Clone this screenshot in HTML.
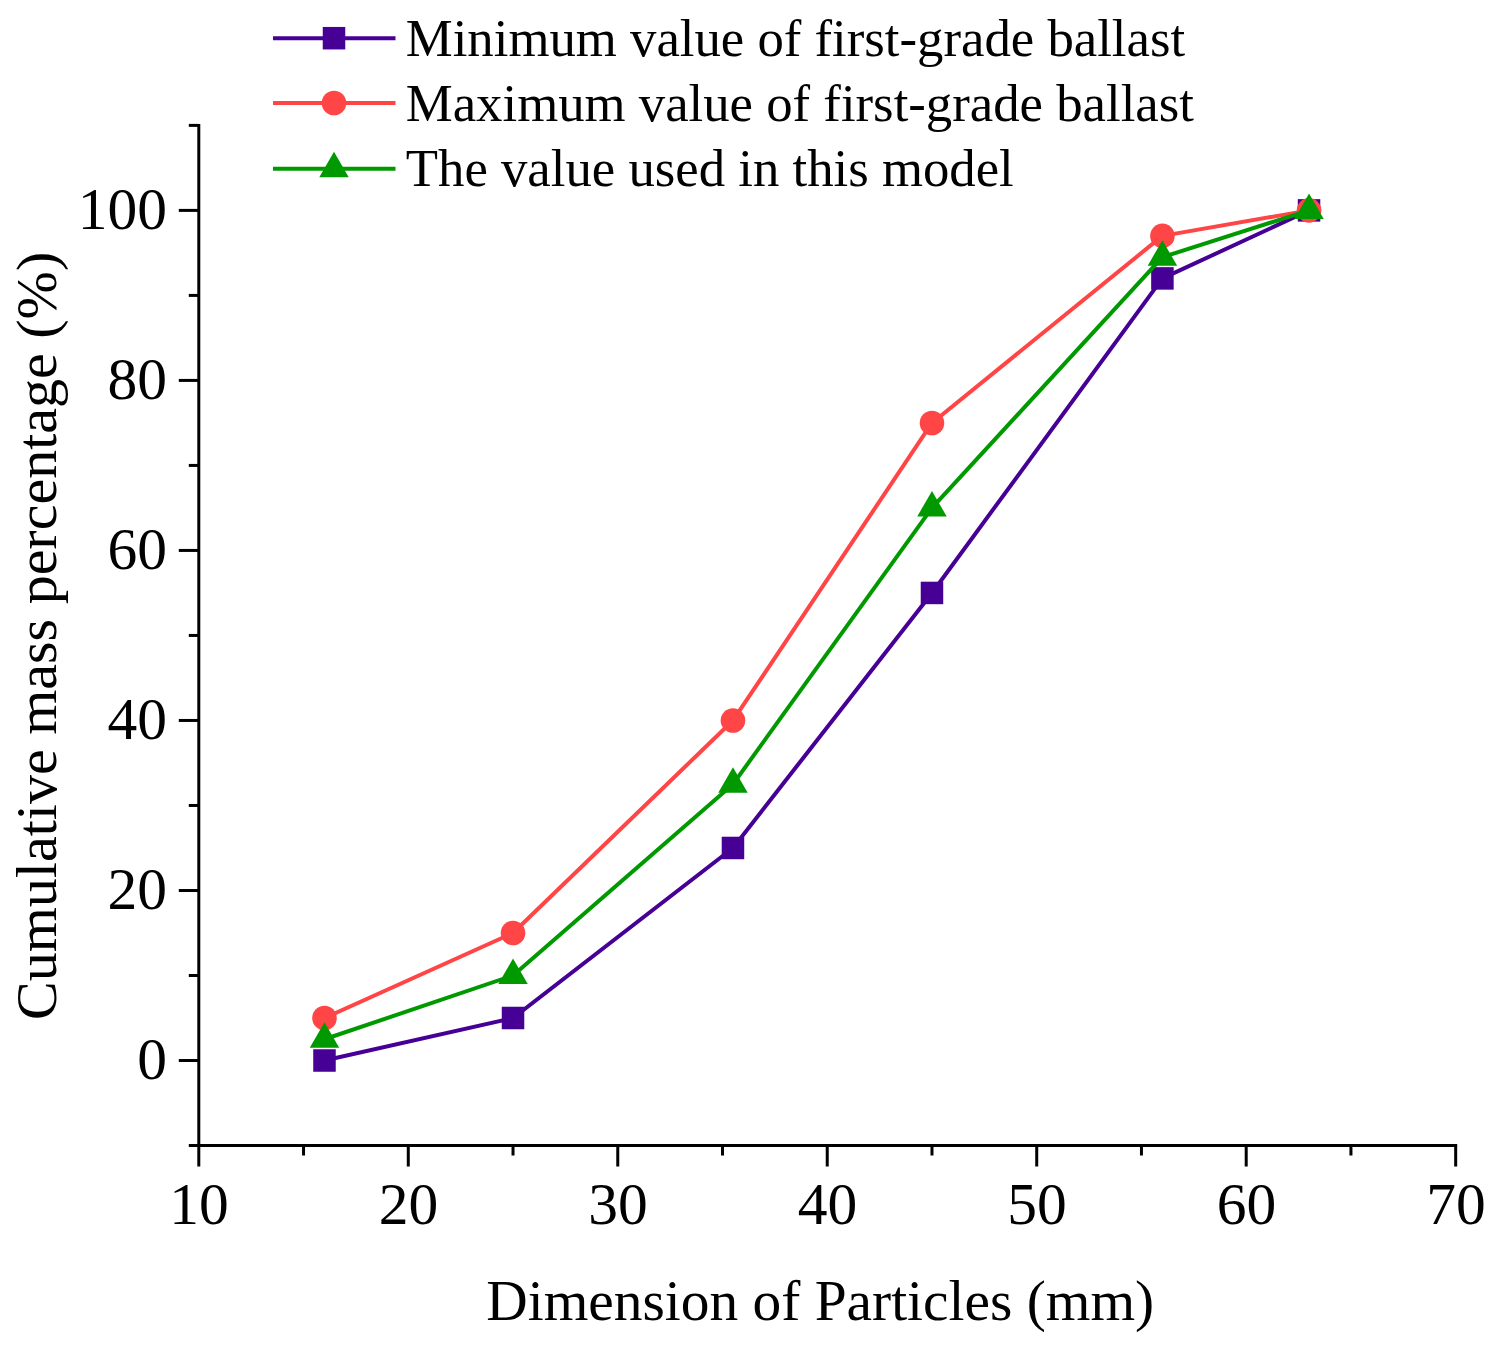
<!DOCTYPE html>
<html><head><meta charset="utf-8"><style>
html,body{margin:0;padding:0;background:#fff;}
body{width:1495px;height:1350px;overflow:hidden;}
svg{display:block;font-family:"Liberation Serif",serif;}
</style></head><body>
<svg width="1495" height="1350" viewBox="0 0 1495 1350">
<rect width="1495" height="1350" fill="#fff"/>
<g stroke="#000" stroke-width="3.0" fill="none"><line x1="198.80" y1="123.89" x2="198.80" y2="1166.51"/><line x1="188.80" y1="1145.51" x2="1457.18" y2="1145.51"/><line x1="178.80" y1="1060.50" x2="198.80" y2="1060.50"/><line x1="188.80" y1="975.49" x2="198.80" y2="975.49"/><line x1="178.80" y1="890.48" x2="198.80" y2="890.48"/><line x1="188.80" y1="805.47" x2="198.80" y2="805.47"/><line x1="178.80" y1="720.46" x2="198.80" y2="720.46"/><line x1="188.80" y1="635.45" x2="198.80" y2="635.45"/><line x1="178.80" y1="550.44" x2="198.80" y2="550.44"/><line x1="188.80" y1="465.43" x2="198.80" y2="465.43"/><line x1="178.80" y1="380.42" x2="198.80" y2="380.42"/><line x1="188.80" y1="295.41" x2="198.80" y2="295.41"/><line x1="178.80" y1="210.40" x2="198.80" y2="210.40"/><line x1="188.80" y1="125.39" x2="198.80" y2="125.39"/><line x1="303.54" y1="1145.51" x2="303.54" y2="1155.51"/><line x1="408.28" y1="1145.51" x2="408.28" y2="1166.51"/><line x1="513.02" y1="1145.51" x2="513.02" y2="1155.51"/><line x1="617.76" y1="1145.51" x2="617.76" y2="1166.51"/><line x1="722.50" y1="1145.51" x2="722.50" y2="1155.51"/><line x1="827.24" y1="1145.51" x2="827.24" y2="1166.51"/><line x1="931.98" y1="1145.51" x2="931.98" y2="1155.51"/><line x1="1036.72" y1="1145.51" x2="1036.72" y2="1166.51"/><line x1="1141.46" y1="1145.51" x2="1141.46" y2="1155.51"/><line x1="1246.20" y1="1145.51" x2="1246.20" y2="1166.51"/><line x1="1350.94" y1="1145.51" x2="1350.94" y2="1155.51"/><line x1="1455.68" y1="1145.51" x2="1455.68" y2="1166.51"/></g>
<g font-size="59.5" fill="#000"><text x="167.0" y="1079.10" text-anchor="end">0</text><text x="167.0" y="909.08" text-anchor="end">20</text><text x="167.0" y="739.06" text-anchor="end">40</text><text x="167.0" y="569.04" text-anchor="end">60</text><text x="167.0" y="399.02" text-anchor="end">80</text><text x="167.0" y="229.00" text-anchor="end">100</text><text x="199.10" y="1224.0" text-anchor="middle">10</text><text x="408.58" y="1224.0" text-anchor="middle">20</text><text x="618.06" y="1224.0" text-anchor="middle">30</text><text x="827.54" y="1224.0" text-anchor="middle">40</text><text x="1037.02" y="1224.0" text-anchor="middle">50</text><text x="1246.50" y="1224.0" text-anchor="middle">60</text><text x="1455.98" y="1224.0" text-anchor="middle">70</text></g>
<text x="486.3" y="1319.5" font-size="57.4">Dimension of Particles (mm)</text>
<text transform="translate(56,1020) rotate(-90)" font-size="58">Cumulative mass percentage (%)</text>
<polyline points="324.49,1060.50 513.02,1018.00 732.97,847.98 931.98,592.95 1162.41,278.41 1309.04,210.40" fill="none" stroke="#460096" stroke-width="4.0" stroke-linejoin="round"/><rect x="313.24" y="1049.25" width="22.5" height="22.5" fill="#460096"/><rect x="501.77" y="1006.75" width="22.5" height="22.5" fill="#460096"/><rect x="721.72" y="836.73" width="22.5" height="22.5" fill="#460096"/><rect x="920.73" y="581.70" width="22.5" height="22.5" fill="#460096"/><rect x="1151.16" y="267.16" width="22.5" height="22.5" fill="#460096"/><rect x="1297.79" y="199.15" width="22.5" height="22.5" fill="#460096"/>
<polyline points="324.49,1018.00 513.02,932.99 732.97,720.46 931.98,422.93 1162.41,235.90 1309.04,210.40" fill="none" stroke="#ff4545" stroke-width="4.0" stroke-linejoin="round"/><circle cx="324.49" cy="1018.00" r="12.3" fill="#ff4545"/><circle cx="513.02" cy="932.99" r="12.3" fill="#ff4545"/><circle cx="732.97" cy="720.46" r="12.3" fill="#ff4545"/><circle cx="931.98" cy="422.93" r="12.3" fill="#ff4545"/><circle cx="1162.41" cy="235.90" r="12.3" fill="#ff4545"/><circle cx="1309.04" cy="210.40" r="12.3" fill="#ff4545"/>
<polyline points="324.49,1039.25 513.02,975.49 732.97,784.22 931.98,507.94 1162.41,257.16 1309.04,210.40" fill="none" stroke="#009900" stroke-width="4.0" stroke-linejoin="round"/><polygon points="324.49,1022.25 339.21,1047.75 309.77,1047.75" fill="#009900"/><polygon points="513.02,958.49 527.74,983.99 498.30,983.99" fill="#009900"/><polygon points="732.97,767.22 747.70,792.72 718.25,792.72" fill="#009900"/><polygon points="931.98,490.94 946.70,516.44 917.26,516.44" fill="#009900"/><polygon points="1162.41,240.16 1177.13,265.66 1147.69,265.66" fill="#009900"/><polygon points="1309.04,193.40 1323.77,218.90 1294.32,218.90" fill="#009900"/>
<line x1="273" y1="38.2" x2="395.5" y2="38.2" stroke="#460096" stroke-width="4.0"/>
<rect x="322.75" y="26.95" width="22.5" height="22.5" fill="#460096"/>
<text x="405.8" y="56.2" font-size="52.75">Minimum value of first-grade ballast</text>
<line x1="273" y1="103.0" x2="395.5" y2="103.0" stroke="#ff4545" stroke-width="4.0"/>
<circle cx="334.00" cy="103.00" r="12.3" fill="#ff4545"/>
<text x="405.8" y="121.0" font-size="52.75">Maximum value of first-grade ballast</text>
<line x1="273" y1="168.7" x2="395.5" y2="168.7" stroke="#009900" stroke-width="4.0"/>
<polygon points="334.00,151.70 348.72,177.20 319.28,177.20" fill="#009900"/>
<text x="405.8" y="185.9" font-size="52.75">The value used in this model</text>
</svg>
</body></html>
